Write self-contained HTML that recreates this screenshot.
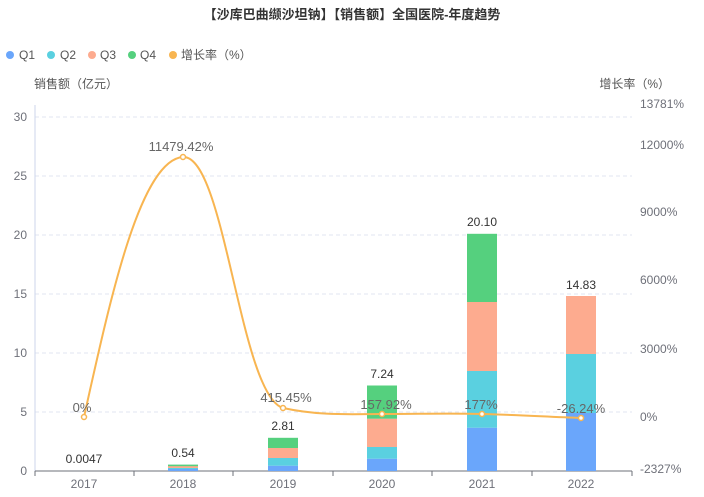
<!DOCTYPE html>
<html><head><meta charset="utf-8"><style>
body{margin:0;background:#fff;}
svg{display:block;font-family:"Liberation Sans","Noto Sans CJK SC",sans-serif;}
</style></head><body>
<svg width="704" height="497" viewBox="0 0 704 497">
<text x="352" y="19" text-anchor="middle" font-size="13" font-weight="bold" fill="#333">【沙库巴曲缬沙坦钠】【销售额】全国医院-年度趋势</text>
<g font-size="12" fill="#555">
<circle cx="10" cy="55" r="4" fill="#6aa6fb"/><text x="19" y="59">Q1</text>
<circle cx="51" cy="55" r="4" fill="#5ad0e0"/><text x="60" y="59">Q2</text>
<circle cx="92" cy="55" r="4" fill="#fdab8f"/><text x="100" y="59">Q3</text>
<circle cx="132" cy="55" r="4" fill="#55d07e"/><text x="140" y="59">Q4</text>
<circle cx="173" cy="55" r="4" fill="#f8b551"/><text x="181" y="59">增长率（%）</text>
<text x="34" y="88">销售额（亿元）</text>
<text x="670" y="88" text-anchor="end">增长率（%）</text>
</g>
<g stroke="#e0e6f1" stroke-dasharray="4,3">
<line x1="35" x2="632" y1="117" y2="117"/><line x1="35" x2="632" y1="176" y2="176"/>
<line x1="35" x2="632" y1="235" y2="235"/><line x1="35" x2="632" y1="294" y2="294"/>
<line x1="35" x2="632" y1="353" y2="353"/><line x1="35" x2="632" y1="412" y2="412"/>
</g>
<line x1="35" x2="35" y1="105" y2="471" stroke="#ccd6eb"/>
<line x1="35" x2="632" y1="471" y2="471" stroke="#6e7079"/>
<g stroke="#6e7079"><line x1="35" x2="35" y1="471" y2="476"/><line x1="134" x2="134" y1="471" y2="476"/><line x1="233" x2="233" y1="471" y2="476"/><line x1="333" x2="333" y1="471" y2="476"/><line x1="432" x2="432" y1="471" y2="476"/><line x1="532" x2="532" y1="471" y2="476"/><line x1="632" x2="632" y1="471" y2="476"/></g>
<g font-size="12" fill="#6e7079" text-anchor="end">
<text x="27" y="121">30</text><text x="27" y="180">25</text><text x="27" y="239">20</text><text x="27" y="298">15</text><text x="27" y="357">10</text><text x="27" y="416">5</text><text x="27" y="475">0</text>
</g>
<g font-size="12" fill="#6e7079">
<text x="640" y="108">13781%</text><text x="640" y="149">12000%</text><text x="640" y="216">9000%</text><text x="640" y="284">6000%</text><text x="640" y="353">3000%</text><text x="640" y="421">0%</text><text x="640" y="473">-2327%</text>
</g>
<g font-size="12" fill="#6e7079" text-anchor="middle">
<text x="84" y="488">2017</text><text x="183" y="488">2018</text><text x="283" y="488">2019</text><text x="382" y="488">2020</text><text x="482" y="488">2021</text><text x="581" y="488">2022</text>
</g>
<g>
<rect x="168" y="469" width="30" height="2" fill="#6aa6fb"/><rect x="168" y="467" width="30" height="2" fill="#5ad0e0"/><rect x="168" y="466" width="30" height="2" fill="#fdab8f"/><rect x="168" y="464.6" width="30" height="1.6" fill="#55d07e"/>
<rect x="268" y="465.7" width="30" height="5.3" fill="#6aa6fb"/><rect x="268" y="458" width="30" height="7.7" fill="#5ad0e0"/><rect x="268" y="448" width="30" height="10" fill="#fdab8f"/><rect x="268" y="437.8" width="30" height="10.2" fill="#55d07e"/>
<rect x="367" y="458.7" width="30" height="12.3" fill="#6aa6fb"/><rect x="367" y="447" width="30" height="11.7" fill="#5ad0e0"/><rect x="367" y="418.7" width="30" height="28.3" fill="#fdab8f"/><rect x="367" y="385.5" width="30" height="33.2" fill="#55d07e"/>
<rect x="467" y="427.7" width="30" height="43.3" fill="#6aa6fb"/><rect x="467" y="371" width="30" height="56.7" fill="#5ad0e0"/><rect x="467" y="302" width="30" height="69" fill="#fdab8f"/><rect x="467" y="233.8" width="30" height="68.2" fill="#55d07e"/>
<rect x="566" y="413" width="30" height="58" fill="#6aa6fb"/><rect x="566" y="354" width="30" height="59" fill="#5ad0e0"/><rect x="566" y="296" width="30" height="58" fill="#fdab8f"/>
</g>
<g font-size="12" fill="#333" text-anchor="middle">
<text x="84" y="463">0.0047</text><text x="183" y="457">0.54</text><text x="283" y="430">2.81</text><text x="382" y="378">7.24</text><text x="482" y="226">20.10</text><text x="581" y="289">14.83</text>
</g>
<path d="M84,417 C110,300 140,160 183,157 C225,155 240,395 283,408 C320,416 350,414 382,414 C420,414 450,413 482,414 C520,415 550,417 581,418" fill="none" stroke="#f8b551" stroke-width="2"/>
<g fill="#fff" stroke="#f8b551" stroke-width="1.5">
<circle cx="84" cy="417" r="2.5"/><circle cx="183" cy="157" r="2.5"/><circle cx="283" cy="408" r="2.5"/><circle cx="382" cy="414" r="2.5"/><circle cx="482" cy="414" r="2.5"/><circle cx="581" cy="418" r="2.5"/>
</g>
<g font-size="13" fill="#666" text-anchor="middle">
<text x="82" y="412">0%</text><text x="181" y="151">11479.42%</text><text x="286" y="402">415.45%</text><text x="386" y="409">157.92%</text><text x="481" y="409">177%</text><text x="581" y="413">-26.24%</text>
</g>
</svg>
</body></html>
